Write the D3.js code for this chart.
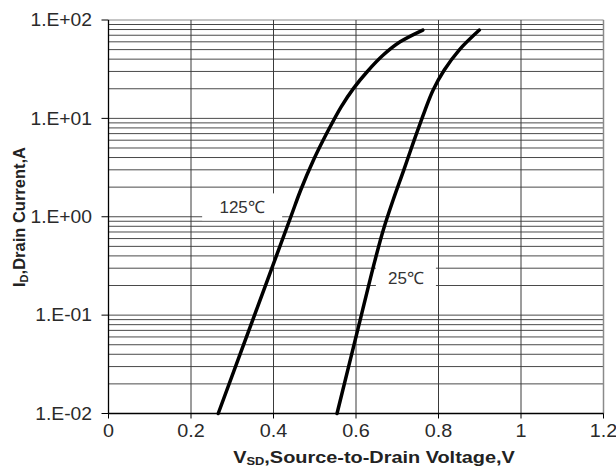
<!DOCTYPE html>
<html>
<head>
<meta charset="utf-8">
<script src="https://cdn.jsdelivr.net/npm/d3@7"></script>
<style>
  html, body { margin: 0; padding: 0; background: #fff; }
  svg { display: block; font-family: "Liberation Sans", Arial, sans-serif; }
</style>
</head>
<body>
<svg id="chart" width="616" height="468"></svg>
<script>
// curve readings, drain current (A) against source-drain voltage (V)
const current125 = [0.01, 0.1, 1, 1.87, 3.77, 7.05, 13.1, 20.2, 29.8, 44, 60, 79];
const voltage125 = [0.266, 0.354, 0.442, 0.466, 0.497, 0.529, 0.564, 0.594, 0.627, 0.666, 0.707, 0.762];

const current25 = [0.01, 0.1, 0.36, 0.73, 1.48, 3, 6, 12, 19.4, 31, 49.5, 79];
const voltage25 = [0.554, 0.613, 0.646, 0.666, 0.69, 0.716, 0.741, 0.767, 0.787, 0.814, 0.85, 0.899];

const xTicks = [0, 0.2, 0.4, 0.6, 0.8, 1, 1.2];
const yTicks = [0.01, 0.1, 1, 10, 100];

const seriesNames = ['125℃', '25℃'];
// label anchor in data units
const labelV = [0.324, 0.721];
const labelI = [1.26, 0.238];

const svg = d3.select('#chart');

const x = d3.scaleLinear().domain([0, 1.2]).range([108.5, 603.5]);
const y = d3.scaleLog().domain([0.01, 100]).range([413.5, 20]);

const fmtY = d => {
  const e = Math.round(Math.log10(d));
  return '1.E' + (e < 0 ? '-' : '+') + String(Math.abs(e)).padStart(2, '0');
};

// horizontal grid: every 1..9 inside each decade
const gridVals = [];
for (let e = -2; e < 2; e++) {
  for (let k = 1; k < 10; k++) gridVals.push(k * Math.pow(10, e));
}
gridVals.push(100);

const grid = svg.append('g').attr('class', 'grid');

grid.selectAll('line.h')
  .data(gridVals)
  .join('line')
  .attr('class', 'h')
  .attr('x1', x(0))
  .attr('x2', x(1.2))
  .attr('y1', d => y(d))
  .attr('y2', d => y(d))
  .attr('stroke', d => d === 100 ? '#8a8a8a' : '#4a4a4a')
  .attr('stroke-width', 1);

grid.selectAll('line.v')
  .data(xTicks.slice(1))
  .join('line')
  .attr('class', 'v')
  .attr('x1', d => x(d))
  .attr('x2', d => x(d))
  .attr('y1', y(100))
  .attr('y2', y(0.01))
  .attr('stroke', d => d === 1.2 ? '#8a8a8a' : '#3a3a3a')
  .attr('stroke-width', d => d === 1.2 ? 1.5 : 1);

// white boxes behind the temperature labels
const boxW = [80, 60];
const boxH = [27, 32];
svg.append('g')
  .selectAll('rect')
  .data(seriesNames)
  .join('rect')
  .attr('x', (d, i) => x(labelV[i]) - boxW[i] / 2)
  .attr('y', (d, i) => y(labelI[i]) - boxH[i] / 2)
  .attr('width', (d, i) => boxW[i])
  .attr('height', (d, i) => boxH[i])
  .attr('fill', '#fff');

// axes lines
svg.append('line')
  .attr('x1', x(0)).attr('x2', x(0))
  .attr('y1', y(100)).attr('y2', y(0.01))
  .attr('stroke', '#000').attr('stroke-width', 1.3);
svg.append('line')
  .attr('x1', x(0)).attr('x2', x(1.2))
  .attr('y1', y(0.01)).attr('y2', y(0.01))
  .attr('stroke', '#000').attr('stroke-width', 1.3);

// y ticks + labels
const yAxis = svg.append('g');
yAxis.selectAll('line')
  .data(yTicks)
  .join('line')
  .attr('x1', x(0) - 7)
  .attr('x2', x(0))
  .attr('y1', d => y(d))
  .attr('y2', d => y(d))
  .attr('stroke', '#000');
yAxis.selectAll('text')
  .data(yTicks)
  .join('text')
  .attr('transform', d => `translate(92,${y(d)}) scale(1.07,1)`)
  .attr('dy', '0.35em')
  .attr('text-anchor', 'end')
  .attr('font-size', 18)
  .attr('fill', '#2a2a2a')
  .text(fmtY);

// x ticks + labels
const xAxis = svg.append('g');
xAxis.selectAll('line')
  .data(xTicks)
  .join('line')
  .attr('x1', d => x(d))
  .attr('x2', d => x(d))
  .attr('y1', y(0.01))
  .attr('y2', y(0.01) + 5)
  .attr('stroke', '#000');
xAxis.selectAll('text')
  .data(xTicks)
  .join('text')
  .attr('transform', d => `translate(${x(d)},437) scale(1.1,1)`)
  .attr('text-anchor', 'middle')
  .attr('font-size', 18)
  .attr('fill', '#2a2a2a')
  .text(d => d3.format('')(d));

// curves
const line = d3.line()
  .x(d => x(d[0]))
  .y(d => y(d[1]))
  .curve(d3.curveCatmullRom.alpha(0.5));

const series = [
  d3.zip(voltage125, current125),
  d3.zip(voltage25, current25),
];

svg.append('g')
  .selectAll('path')
  .data(series)
  .join('path')
  .attr('d', line)
  .attr('fill', 'none')
  .attr('stroke', '#000')
  .attr('stroke-width', 3.5)
  .attr('stroke-linecap', 'round');

// temperature labels
svg.append('g')
  .selectAll('text')
  .data(seriesNames)
  .join('text')
  .attr('x', (d, i) => x(labelV[i]))
  .attr('y', (d, i) => y(labelI[i]))
  .attr('dy', '0.35em')
  .attr('text-anchor', 'middle')
  .attr('font-size', 17)
  .attr('fill', '#333')
  .text(d => d);

// axis titles
const xTitle = svg.append('text')
  .attr('transform', 'translate(374,462.5) scale(1.17,1)')
  .attr('text-anchor', 'middle')
  .attr('font-size', 17)
  .attr('font-weight', 'bold')
  .attr('fill', '#222');
xTitle.append('tspan').text('V');
xTitle.append('tspan').attr('font-size', 11).attr('dy', 2.5).text('SD');
xTitle.append('tspan').attr('dy', -2.5).text(',Source-to-Drain Voltage,V');

const yTitle = svg.append('text')
  .attr('transform', 'translate(25,217) rotate(-90)')
  .attr('text-anchor', 'middle')
  .attr('font-size', 16.5)
  .attr('font-weight', 'bold')
  .attr('fill', '#222');
yTitle.append('tspan').text('I');
yTitle.append('tspan').attr('font-size', 11).attr('dy', 3).text('D');
yTitle.append('tspan').attr('dy', -3).text(',Drain Current,A');
</script>
</body>
</html>
